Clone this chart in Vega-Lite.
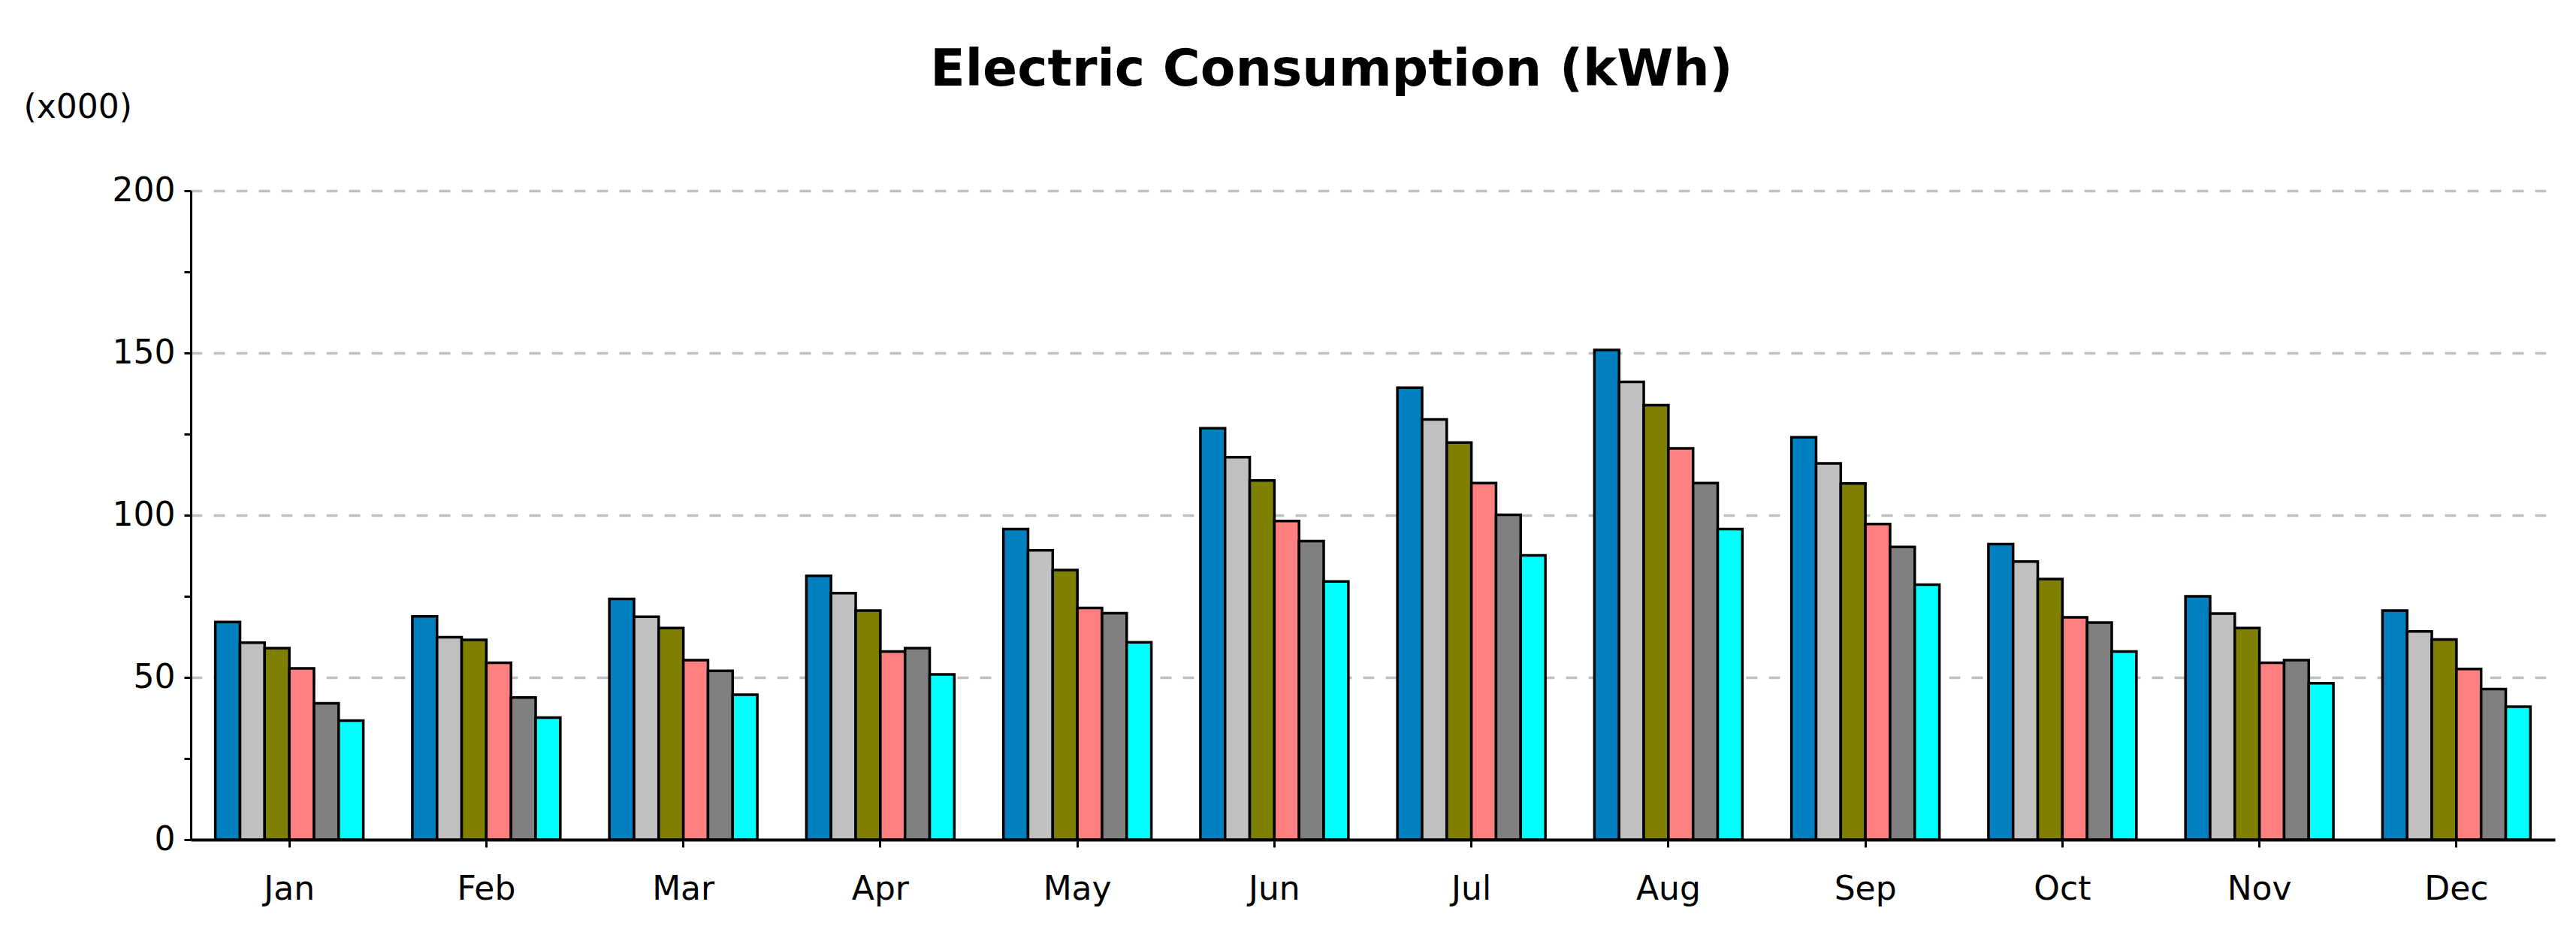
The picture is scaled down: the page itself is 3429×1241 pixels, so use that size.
{
  "$schema": "https://vega.github.io/schema/vega-lite/v6.json",
  "width": 3147,
  "height": 864,
  "autosize": {"type": "none"},
  "padding": {"left": 254, "top": 254, "right": 28, "bottom": 123},
  "background": "white",
  "title": {
    "text": "Electric Consumption (kWh)",
    "font": "DejaVu Sans",
    "fontWeight": "bold",
    "fontSize": 68,
    "color": "black",
    "anchor": "middle",
    "frame": "group",
    "dx": -55,
    "baseline": "alphabetic",
    "offset": -61
  },
  "data": {
    "values": [
      {"month": "Jan", "series": "S1", "value": 67.1},
      {"month": "Jan", "series": "S2", "value": 60.7},
      {"month": "Jan", "series": "S3", "value": 59.0},
      {"month": "Jan", "series": "S4", "value": 52.8},
      {"month": "Jan", "series": "S5", "value": 42.0},
      {"month": "Jan", "series": "S6", "value": 36.7},
      {"month": "Feb", "series": "S1", "value": 68.8},
      {"month": "Feb", "series": "S2", "value": 62.4},
      {"month": "Feb", "series": "S3", "value": 61.6},
      {"month": "Feb", "series": "S4", "value": 54.5},
      {"month": "Feb", "series": "S5", "value": 43.8},
      {"month": "Feb", "series": "S6", "value": 37.6},
      {"month": "Mar", "series": "S1", "value": 74.2},
      {"month": "Mar", "series": "S2", "value": 68.7},
      {"month": "Mar", "series": "S3", "value": 65.2},
      {"month": "Mar", "series": "S4", "value": 55.3},
      {"month": "Mar", "series": "S5", "value": 52.0},
      {"month": "Mar", "series": "S6", "value": 44.7},
      {"month": "Apr", "series": "S1", "value": 81.3},
      {"month": "Apr", "series": "S2", "value": 76.0},
      {"month": "Apr", "series": "S3", "value": 70.6},
      {"month": "Apr", "series": "S4", "value": 58.0},
      {"month": "Apr", "series": "S5", "value": 59.0},
      {"month": "Apr", "series": "S6", "value": 50.9},
      {"month": "May", "series": "S1", "value": 95.7},
      {"month": "May", "series": "S2", "value": 89.2},
      {"month": "May", "series": "S3", "value": 83.1},
      {"month": "May", "series": "S4", "value": 71.4},
      {"month": "May", "series": "S5", "value": 69.8},
      {"month": "May", "series": "S6", "value": 60.8},
      {"month": "Jun", "series": "S1", "value": 126.8},
      {"month": "Jun", "series": "S2", "value": 117.9},
      {"month": "Jun", "series": "S3", "value": 110.7},
      {"month": "Jun", "series": "S4", "value": 98.2},
      {"month": "Jun", "series": "S5", "value": 92.0},
      {"month": "Jun", "series": "S6", "value": 79.6},
      {"month": "Jul", "series": "S1", "value": 139.3},
      {"month": "Jul", "series": "S2", "value": 129.5},
      {"month": "Jul", "series": "S3", "value": 122.4},
      {"month": "Jul", "series": "S4", "value": 109.9},
      {"month": "Jul", "series": "S5", "value": 100.1},
      {"month": "Jul", "series": "S6", "value": 87.6},
      {"month": "Aug", "series": "S1", "value": 150.9},
      {"month": "Aug", "series": "S2", "value": 141.1},
      {"month": "Aug", "series": "S3", "value": 133.9},
      {"month": "Aug", "series": "S4", "value": 120.6},
      {"month": "Aug", "series": "S5", "value": 109.9},
      {"month": "Aug", "series": "S6", "value": 95.7},
      {"month": "Sep", "series": "S1", "value": 124.0},
      {"month": "Sep", "series": "S2", "value": 116.0},
      {"month": "Sep", "series": "S3", "value": 109.8},
      {"month": "Sep", "series": "S4", "value": 97.3},
      {"month": "Sep", "series": "S5", "value": 90.2},
      {"month": "Sep", "series": "S6", "value": 78.6},
      {"month": "Oct", "series": "S1", "value": 91.1},
      {"month": "Oct", "series": "S2", "value": 85.7},
      {"month": "Oct", "series": "S3", "value": 80.3},
      {"month": "Oct", "series": "S4", "value": 68.5},
      {"month": "Oct", "series": "S5", "value": 66.9},
      {"month": "Oct", "series": "S6", "value": 58.0},
      {"month": "Nov", "series": "S1", "value": 75.0},
      {"month": "Nov", "series": "S2", "value": 69.7},
      {"month": "Nov", "series": "S3", "value": 65.2},
      {"month": "Nov", "series": "S4", "value": 54.5},
      {"month": "Nov", "series": "S5", "value": 55.3},
      {"month": "Nov", "series": "S6", "value": 48.2},
      {"month": "Dec", "series": "S1", "value": 70.6},
      {"month": "Dec", "series": "S2", "value": 64.2},
      {"month": "Dec", "series": "S3", "value": 61.7},
      {"month": "Dec", "series": "S4", "value": 52.6},
      {"month": "Dec", "series": "S5", "value": 46.4},
      {"month": "Dec", "series": "S6", "value": 41.0}
    ]
  },
  "mark": {"type": "bar", "stroke": "black", "strokeWidth": 3.5},
  "encoding": {
    "x": {
      "field": "month",
      "type": "nominal",
      "sort": ["Jan", "Feb", "Mar", "Apr", "May", "Jun", "Jul", "Aug", "Sep", "Oct", "Nov", "Dec"],
      "scale": {"paddingInner": 0.249, "paddingOuter": 0.1245},
      "axis": {
        "title": null,
        "labelAngle": 0,
        "labelFont": "DejaVu Sans",
        "labelFontSize": 44,
        "labelColor": "black",
        "labelPadding": 34,
        "domainColor": "black",
        "domainWidth": 4,
        "tickColor": "black",
        "tickWidth": 3,
        "tickSize": 10,
        "grid": false
      }
    },
    "xOffset": {
      "field": "series",
      "type": "nominal",
      "scale": {"paddingInner": 0, "paddingOuter": 0}
    },
    "y": {
      "field": "value",
      "type": "quantitative",
      "scale": {"domain": [0, 200], "nice": false},
      "axis": {
        "values": [0, 25, 50, 75, 100, 125, 150, 175, 200],
        "labelExpr": "datum.value % 50 === 0 ? datum.label : ''",
        "labelFont": "DejaVu Sans",
        "labelFontSize": 44,
        "labelColor": "black",
        "labelPadding": 12,
        "domainColor": "black",
        "domainWidth": 3,
        "tickColor": "black",
        "tickWidth": 3,
        "tickSize": 9,
        "grid": true,
        "gridColor": "#c0c0c0",
        "gridDash": [15, 15],
        "gridWidth": 3.5,
        "gridOpacity": {"condition": {"test": "datum.value % 50 !== 0 || datum.value === 0", "value": 0}, "value": 1},
        "title": "(x000)",
        "titleFont": "DejaVu Sans",
        "titleFontSize": 44,
        "titleFontWeight": "normal",
        "titleColor": "black",
        "titleAngle": 0,
        "titleAlign": "left",
        "titleBaseline": "middle",
        "titleX": -223,
        "titleY": -111
      }
    },
    "color": {
      "field": "series",
      "type": "nominal",
      "scale": {
        "domain": ["S1", "S2", "S3", "S4", "S5", "S6"],
        "range": ["#0080C0", "#C0C0C0", "#808000", "#FF8080", "#808080", "#00FFFF"]
      },
      "legend": null
    }
  },
  "config": {"view": {"stroke": null}}
}
